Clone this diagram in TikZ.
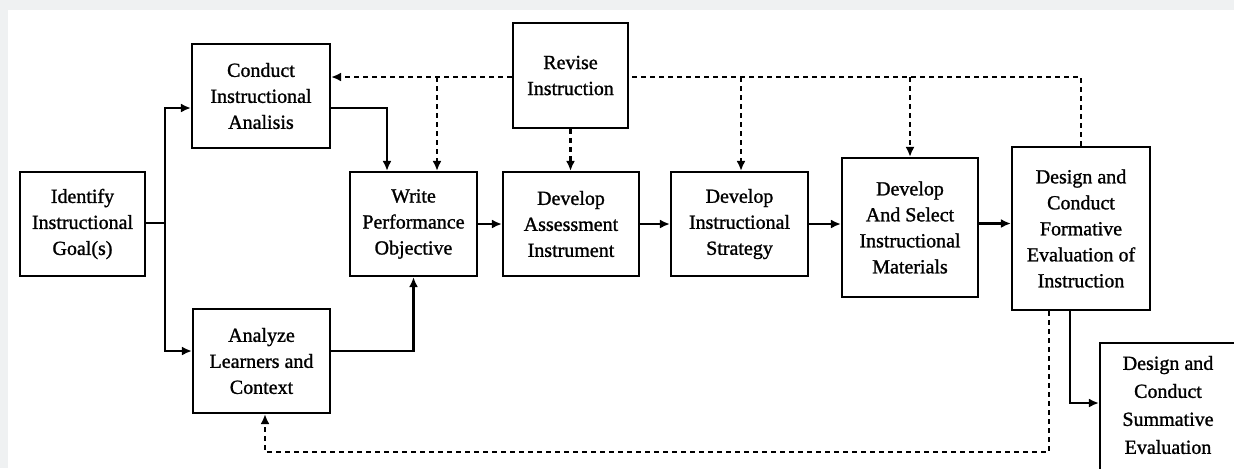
\documentclass[tikz,border=0pt]{standalone}
\usepackage{fontspec}
\setmainfont{Liberation Serif}[FakeBold=1.2]
\newfontfamily\heavy{Liberation Serif}[FakeBold=1.2]
\usetikzlibrary{arrows.meta}
\definecolor{edge}{HTML}{EFF1F2}
\begin{document}
\begin{tikzpicture}[x=0.5pt,y=-0.5pt,
  box/.style={draw, line width=1.1pt, fill=white, align=center, inner sep=0pt,
              font=\heavy\fontsize{10}{13}\selectfont},
  txt/.style={align=center, inner sep=0pt, font=\heavy\fontsize{10}{14}\selectfont},
  solidline/.style={line width=1.1pt},
  arr/.style={line width=1.1pt, -{Latex[length=5pt,width=4.5pt]}},
  dline/.style={line width=1.1pt, dash pattern=on 2.5pt off 2pt},
  darr/.style={arr, dash pattern=on 2.5pt off 2pt},
  ]
\useasboundingbox (0,0) rectangle (1234,468);
\fill[edge] (0,0) rectangle (1234,468);
\fill[white] (8,10) rectangle (1234,468);

% boxes
\node[box, minimum width=62.5pt, minimum height=52pt] (id) at (82.5,224) {Identify\\Instructional\\Goal(s)};
\node[box, minimum width=69pt, minimum height=52pt] (ca) at (261,96) {Conduct\\Instructional\\Analisis};
\node[box, minimum width=68.5pt, minimum height=52pt] (al) at (261.5,361) {Analyze\\Learners and\\Context};
\node[box, minimum width=63.5pt, minimum height=52pt] (wo) at (413.5,224) {Write\\Performance\\Objective};
\node[box, minimum width=57.5pt, minimum height=52.5pt] (ri) at (570.5,75.5) {Revise\\Instruction};
\node[box, minimum width=68pt, minimum height=52pt] (da) at (571,224) {Develop\\Assessment\\Instrument};
\node[box, minimum width=68.5pt, minimum height=52pt] (ds) at (739.5,224) {Develop\\Instructional\\Strategy};
\node[box, minimum width=68pt, minimum height=69.5pt] (dm) at (910,227.5) {Develop\\And Select\\Instructional\\Materials};
\node[box, minimum width=69pt, minimum height=81.5pt] (fe) at (1081,228.5) {Design and\\Conduct\\Formative\\Evaluation of\\Instruction};
\node[box, minimum width=81pt, minimum height=75pt] (se) at (1181,418) {};
\node[txt] (set) at (1168,405) {Design and\\Conduct\\Summative\\Evaluation};

\coordinate (j) at (165,223);
\coordinate (tl) at (0,77);
\coordinate (bl) at (0,452);

% solid connectors
\draw[solidline] (id.east |- j) -- (j);
\draw[arr] (j) |- ([yshift=-6pt]ca.west);
\draw[arr] (j) |- ([yshift=5pt]al.west);
\draw[arr] ([yshift=-6pt]ca.east) -| ([xshift=-13.25pt]wo.north);
\draw[arr] ([yshift=5pt]al.east) -| (wo.south);
\draw[arr] (wo.east) -- (da.west);
\draw[arr] (da.east) -- (ds.west);
\draw[arr] (ds.east) -- (ds.east -| dm.west);
\draw[arr] ([yshift=2pt]dm.east) -- ([yshift=2pt]dm.east -| fe.west);
\draw[arr] ([xshift=-5.5pt]fe.south) |- ([yshift=7.5pt]se.west);

% dashed feedback
\draw[dline] (fe.north) |- (tl -| ri.east);
\draw[darr] (tl -| ri.west) -- (tl -| ca.east);
\draw[darr] ([xshift=11.75pt]wo.north |- tl) -- ([xshift=11.75pt]wo.north);
\draw[darr] (ri.south) -- (ri.south |- da.north);
\draw[darr] ([xshift=0.75pt]ds.north |- tl) -- ([xshift=0.75pt]ds.north);
\draw[darr] (dm.north |- tl) -- (dm.north);
\draw[darr] ([xshift=-16pt]fe.south) |- ([xshift=1.75pt]al.south |- bl) -- ([xshift=1.75pt]al.south);
\end{tikzpicture}
\end{document}
